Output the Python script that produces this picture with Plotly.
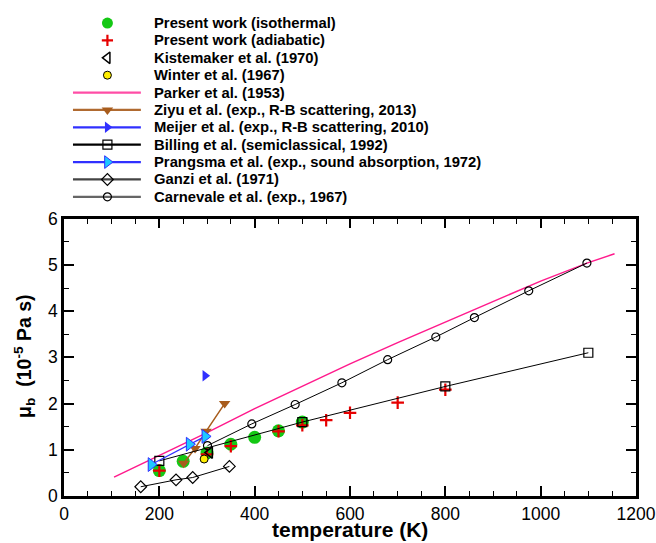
import plotly.graph_objects as go

# ---------------- data ----------------
T_iso = [200, 250, 300, 350, 400, 450, 500]
mu_iso = [0.55, 0.75, 0.93, 1.12, 1.27, 1.41, 1.60]

T_adi = [200, 300, 350, 450, 500, 550, 600, 700, 800]
mu_adi = [0.55, 0.90, 1.08, 1.40, 1.53, 1.64, 1.80, 2.02, 2.30]

T_kist = [306]
mu_kist = [0.94]

T_winter = [294]
mu_winter = [0.80]

T_parker = [105, 200, 300, 400, 500, 600, 700, 800, 900, 1000, 1100, 1155]
mu_parker = [0.41, 0.87, 1.37, 1.89, 2.38, 2.86, 3.32, 3.76, 4.20, 4.65, 5.05, 5.24]

T_ziyu = [251, 275, 298, 337]
mu_ziyu = [0.71, 1.03, 1.40, 2.00]

T_meijer = [296]
mu_meijer = [2.60]

T_billing = [200, 500, 800, 1100]
mu_billing = [0.76, 1.60, 2.37, 3.10]

T_prangsma = [183, 263, 296]
mu_prangsma = [0.68, 1.12, 1.29]

T_ganzi = [161, 235, 270, 347]
mu_ganzi = [0.20, 0.35, 0.40, 0.64]

T_carn = [301, 394, 485, 583, 679, 780, 861, 975, 1097]
mu_carn = [1.09, 1.56, 1.98, 2.45, 2.95, 3.44, 3.86, 4.44, 5.04]

legend_labels = [
    "Present work (isothermal)",
    "Present work (adiabatic)",
    "Kistemaker et al. (1970)",
    "Winter et al. (1967)",
    "Parker et al. (1953)",
    "Ziyu et al. (exp., R-B scattering, 2013)",
    "Meijer et al. (exp., R-B scattering, 2010)",
    "Billing et al. (semiclassical, 1992)",
    "Prangsma et al. (exp., sound absorption, 1972)",
    "Ganzi et al. (1971)",
    "Carnevale et al. (exp., 1967)",
]

x_ticks = [0, 200, 400, 600, 800, 1000, 1200]
y_ticks = [0, 1, 2, 3, 4, 5, 6]

# ---------------- styles ----------------
GREEN = "#14c814"
RED = "#e60000"
PINK = "#ff1a8c"
BROWN = "#a85c1c"
BLUE = "#3030ff"
CYAN = "#1ec8ff"
FONT = "Liberation Sans, Arial, Helvetica, sans-serif"

styles = [
    dict(mode="markers", marker=dict(symbol="circle", size=13, color=GREEN)),
    dict(mode="markers", marker=dict(symbol="cross-thin-open", size=9, color=RED, line=dict(color=RED, width=2.2))),
    dict(mode="markers", marker=dict(symbol="triangle-left-open", size=10, color="black", line=dict(color="black", width=1.5))),
    dict(mode="markers", marker=dict(symbol="circle", size=8, color="#ffee00", line=dict(color="black", width=1))),
    dict(mode="lines", line=dict(color=PINK, width=1.5)),
    dict(mode="lines+markers", line=dict(color=BROWN, width=1.5), marker=dict(symbol="triangle-down", size=10, color=BROWN)),
    dict(mode="lines+markers", line=dict(color=BLUE, width=1.2), marker=dict(symbol="triangle-right", size=10, color=BLUE)),
    dict(mode="lines+markers", line=dict(color="black", width=1), marker=dict(symbol="square-open", size=9, color="black", line=dict(color="black", width=1.2))),
    dict(mode="lines+markers", line=dict(color=BLUE, width=1.2), marker=dict(symbol="triangle-right", size=12, color=CYAN, line=dict(color=BLUE, width=1))),
    dict(mode="lines+markers", line=dict(color="black", width=1), marker=dict(symbol="diamond-open", size=9, color="black", line=dict(color="black", width=1.2))),
    dict(mode="lines+markers", line=dict(color="black", width=1), marker=dict(symbol="circle-open", size=8, color="black", line=dict(color="black", width=1.2))),
]

series = [
    (T_iso, mu_iso), (T_adi, mu_adi), (T_kist, mu_kist), (T_winter, mu_winter),
    (T_parker, mu_parker), (T_ziyu, mu_ziyu), (T_meijer, mu_meijer),
    (T_billing, mu_billing), (T_prangsma, mu_prangsma), (T_ganzi, mu_ganzi),
    (T_carn, mu_carn),
]

fig = go.Figure()
for (xs, ys), st, name in zip(series, styles, legend_labels):
    fig.add_trace(go.Scatter(x=xs, y=ys, name=name, showlegend=False,
                             cliponaxis=False, **st))

# ---------------- hand-built legend on an auxiliary pixel-like axis ----------------
legend_line_colors = [None, None, None, None, "#ff4da6", "#b06a30", BLUE, "black", BLUE, "#444444", "#666666"]
row0, drow = 13.3, 17.74
annotations = []
for i, (st, name) in enumerate(zip(styles, legend_labels)):
    yy = row0 + drow * i
    lc = legend_line_colors[i]
    if lc is not None:
        fig.add_trace(go.Scatter(x=[73, 141], y=[yy, yy], mode="lines",
                                 line=dict(color=lc, width=2.2),
                                 xaxis="x2", yaxis="y2", showlegend=False,
                                 cliponaxis=False, hoverinfo="skip"))
    if "marker" in st:
        mk = dict(st["marker"])
        if i == 0:
            mk["size"] = 11
        if i == 1:
            mk["size"] = 8
        if i == 8:
            mk["size"] = 11
        fig.add_trace(go.Scatter(x=[107.5], y=[yy], mode="markers", marker=mk,
                                 xaxis="x2", yaxis="y2", showlegend=False,
                                 cliponaxis=False, hoverinfo="skip"))
    annotations.append(dict(x=152.5, y=yy, xref="x2", yref="y2", text="<b>%s</b>" % name,
                            showarrow=False, xanchor="left", yanchor="middle",
                            font=dict(family=FONT, size=14.8, color="black")))

W, H = 656, 543
ML, MR, MT, MB = 64, 19, 0, 47
plot_top_px = 213
paper_h = H - MT - MB
ydom_top = (paper_h - plot_top_px) / paper_h
leg_dom_bottom = ydom_top + 0.01
leg_px_bottom = paper_h * (1 - leg_dom_bottom)

# axis titles
annotations.append(dict(x=0.5, y=(paper_h - 530) / paper_h, xref="paper", yref="paper",
                        text="<b>temperature (K)</b>", showarrow=False,
                        xanchor="center", yanchor="middle",
                        font=dict(family=FONT, size=21, color="black")))
annotations.append(dict(x=(25 - ML) / (W - ML - MR), y=(paper_h - 354) / paper_h,
                        xref="paper", yref="paper",
                        text="<b>\u03bc<sub>b</sub>  (10<sup>-5</sup> Pa s)</b>",
                        showarrow=False, textangle=-90,
                        xanchor="center", yanchor="middle",
                        font=dict(family=FONT, size=19.5, color="black")))

axis_common = dict(
    showgrid=False, zeroline=False, showline=True, linecolor="black", linewidth=2.5,
    mirror="allticks", ticks="inside", ticklen=10, tickwidth=2, tickcolor="black",
    tickfont=dict(family=FONT, size=17.5, color="black"),
    ticklabeloverflow="allow",
)

fig.update_layout(
    width=W, height=H,
    margin=dict(l=ML, r=MR, t=MT, b=MB, pad=0),
    paper_bgcolor="white", plot_bgcolor="white",
    showlegend=False,
    xaxis=dict(range=[0, 1200], tickvals=x_ticks, ticktext=[str(v) for v in x_ticks],
               domain=[0, 1], anchor="y",
               minor=dict(dtick=50, ticks="inside", ticklen=5.5, tickwidth=1.3, tickcolor="black"),
               **axis_common),
    yaxis=dict(range=[0, 6], tickvals=y_ticks, ticktext=[str(v) for v in y_ticks],
               domain=[0, ydom_top], anchor="x",
               minor=dict(dtick=0.5, ticks="inside", ticklen=5.5, tickwidth=1.3, tickcolor="black"),
               **axis_common),
    xaxis2=dict(domain=[0, 1], range=[ML, W - MR], anchor="y2", visible=False, fixedrange=True),
    yaxis2=dict(domain=[leg_dom_bottom, 1], range=[leg_px_bottom, 0], anchor="x2",
                visible=False, fixedrange=True),
    annotations=annotations,
)

fig.write_html("out.html")
